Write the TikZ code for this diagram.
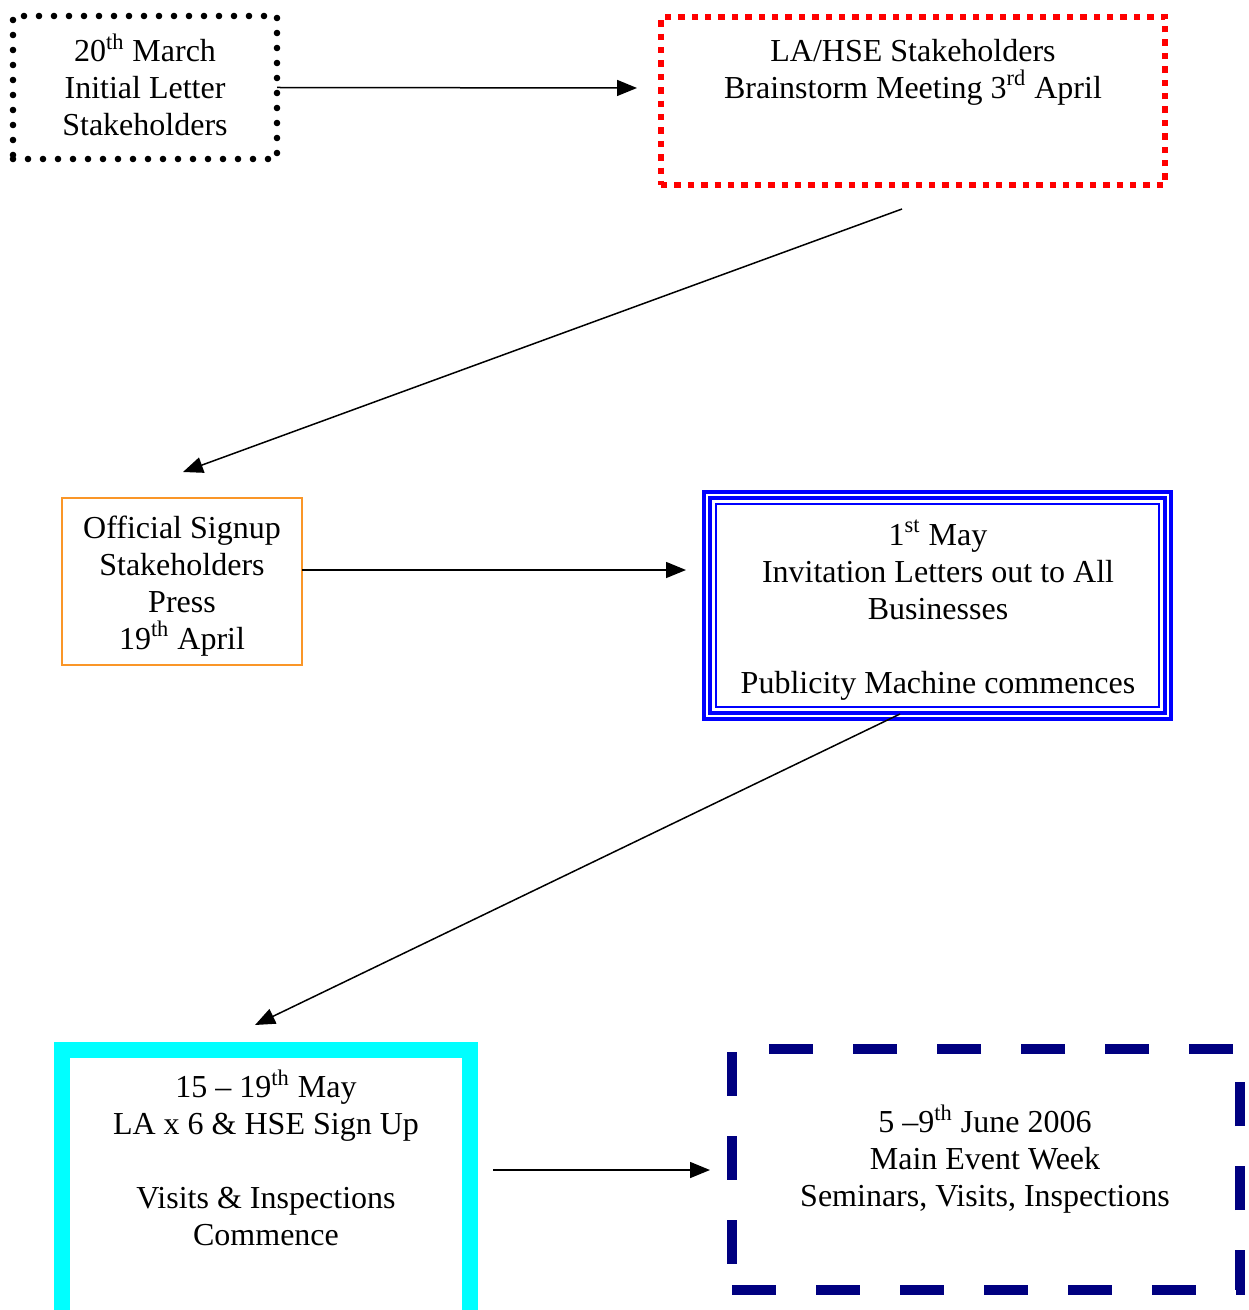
\documentclass[tikz,border=0pt]{standalone}
\usepackage{fontspec}
\setmainfont{Liberation Serif}
\usetikzlibrary{arrows.meta,fit}
\definecolor{rbred}{RGB}{255,0,0}
\definecolor{rborange}{RGB}{250,150,40}
\definecolor{rbblue}{RGB}{0,0,255}
\definecolor{rbcyan}{RGB}{0,255,255}
\definecolor{rbnavy}{RGB}{0,0,128}
\tikzset{
  arr/.style={line width=0.75pt,-{Triangle[length=10pt,width=8pt]}},
  boxbase/.style={inner sep=0pt,outer sep=0pt,rectangle},
  dotbox/.style={boxbase,draw=black,line width=3.3pt,line cap=round,dash pattern=on 0pt off 7.5pt},
  sqbox/.style={boxbase,draw=rbred,line width=3.2pt,dash pattern=on 3.2pt off 3.5pt},
  orbox/.style={boxbase,draw=rborange,line width=0.8pt},
  bluebox/.style={boxbase,draw=rbblue},
  cyanbox/.style={boxbase,draw=rbcyan,line width=8pt},
  navybox/.style={boxbase,draw=rbnavy,line width=5pt,dash pattern=on 22pt off 20pt,dash phase=0pt},
  txt/.style={align=center,inner sep=0pt,font=\fontsize{16}{18.5}\selectfont}
}
\begin{document}
\begin{tikzpicture}[x=0.5pt,y=-0.5pt]
\clip (0,0) rectangle (1248,1310);
\useasboundingbox (0,0) rectangle (1248,1310);
% corner coordinates
\coordinate (b1a) at (13,16);   \coordinate (b1b) at (277,159);
\coordinate (b2a) at (661,17);  \coordinate (b2b) at (1165,185);
\coordinate (b3a) at (62,498);  \coordinate (b3b) at (302,665);
\coordinate (b4a) at (704,492); \coordinate (b4b) at (1171,719);
\coordinate (b4c) at (710,498); \coordinate (b4d) at (1165,713);
\coordinate (b4e) at (716,504); \coordinate (b4f) at (1159,707);
\coordinate (b5a) at (62,1050); \coordinate (b5b) at (470,1318);
\coordinate (b6a) at (732,1049);\coordinate (b6b) at (1240,1290);
% boxes
\node[dotbox,fit=(b1a)(b1b)] (box1) {};
\node[sqbox,fit=(b2a)(b2b)] (box2) {};
\node[orbox,fit=(b3a)(b3b)] (box3) {};
\node[bluebox,line width=1.8pt,fit=(b4a)(b4b)] (box4) {};
\node[bluebox,line width=1.8pt,fit=(b4c)(b4d)] (box4m) {};
\node[bluebox,line width=0.9pt,fit=(b4e)(b4f)] (box4i) {};
\node[cyanbox,fit=(b5a)(b5b)] (box5) {};
\node[navybox,fit=(b6a)(b6b)] (box6) {};
% texts
\node[txt] (t1) at (145,85) {20\textsuperscript{th} March\\Initial Letter\\Stakeholders};
\node[txt] (t2) at (913,72) {LA/HSE Stakeholders\\Brainstorm Meeting 3\textsuperscript{rd} April};
\node[txt] (t3) at (182,586) {Official Signup\\Stakeholders\\Press\\19\textsuperscript{th} April};
\node[txt] (t4) at (938,610) {1\textsuperscript{st} May\\Invitation Letters out to All\\Businesses\\[18.5pt]Publicity Machine commences};
\node[txt] (t5) at (266,1158) {15 – 19\textsuperscript{th} May\\LA x 6 \& HSE Sign Up\\[18.5pt]Visits \& Inspections\\Commence};
\node[txt] (t6) at (985,1159) {5 –9\textsuperscript{th} June 2006\\Main Event Week\\Seminars, Visits, Inspections};
% connector ends
\coordinate (a1e) at (637,88);
\coordinate (a2s) at (902,209); \coordinate (a2e) at (183,472);
\coordinate (a3s) at (302,570); \coordinate (a3e) at (686,570);
\coordinate (a4s) at (900,714); \coordinate (a4e) at (255,1025);
\coordinate (a5s) at (493,1170); \coordinate (a5e) at (710,1170);
% connectors
\draw[arr] (box1.east) -- (a1e);
\draw[arr] (a2s) -- (a2e);
\draw[arr] (a3s) -- (a3e);
\draw[arr] (a4s) -- (a4e);
\draw[arr] (a5s) -- (a5e);
\end{tikzpicture}
\end{document}
